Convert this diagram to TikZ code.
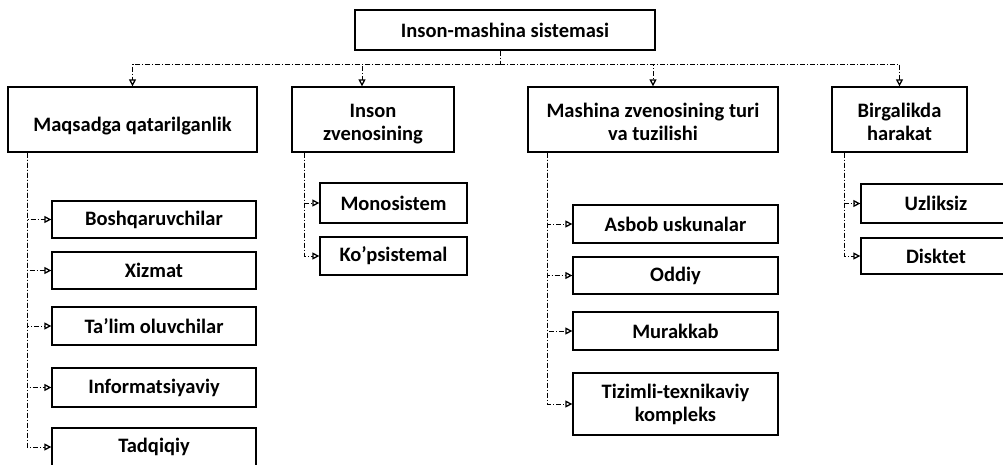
\documentclass[tikz,border=0pt]{standalone}
\usepackage{fontspec}
\setmainfont{Carlito}
\usetikzlibrary{arrows.meta}
\tikzset{
  box/.style = {draw, line width = 1.3pt, align = center, inner sep = 2pt, font = \bfseries\fontsize{20.5}{23}\selectfont},
  head/.style = {box, minimum height = 65pt, text height = 47pt, text depth = 5pt},
  link/.style = {line width = 0.5pt, dash pattern = on 5pt off 2pt on 1pt off 2pt, -{Triangle[open, length = 7pt, width = 7pt, line width = 1.3pt]}}
}
\begin{document}
\begin{tikzpicture}[x = 1pt, y = -1pt]
  \useasboundingbox (0, 0) rectangle (1003, 464);
  % root
  \node[box, minimum width = 300pt, minimum height = 40pt] (root) at (505, 30) {Inson-mashina sistemasi};
  % first level
  \node[head, minimum width = 249pt, text height = 28pt, text depth = 5pt] (maq) at (132.5, 119.5) {Maqsadga qatarilganlik};
  \node[head, minimum width = 162pt] (ins) at (373, 119.5) {Inson\\zvenosining};
  \node[head, minimum width = 250pt] (mash) at (653, 119.5) {Mashina zvenosining turi\\va tuzilishi};
  \node[head, minimum width = 135pt] (birg) at (899.5, 119.5) {Birgalikda\\harakat};
  \coordinate (bus) at (500, 64);
  \draw[line width = 0.5pt, dash pattern = on 5pt off 2pt on 1pt off 2pt] (root.south -| bus) -- (bus);
  \draw[link] (bus) -| (maq.north);
  \draw[link] (bus) -| ([xshift = -11pt]ins.north);
  \draw[link] (bus) -| (mash.north);
  \draw[link] (bus) -| (birg.north);
  % Maqsadga qatarilganlik
  \node[box, minimum width = 204pt, minimum height = 37pt] (bosh) at (154, 219.5) {Boshqaruvchilar};
  \node[box, minimum width = 204pt, minimum height = 37pt] (xiz) at (154, 270.5) {Xizmat};
  \node[box, minimum width = 204pt, minimum height = 38pt] (tal) at (154, 326) {Ta’lim oluvchilar};
  \node[box, minimum width = 204pt, minimum height = 39pt] (inf) at (154, 387.5) {Informatsiyaviy};
  \node[box, minimum width = 204pt, minimum height = 38pt] (tad) at (154, 447) {Tadqiqiy};
  \foreach \n in {bosh, xiz, tal, inf, tad}
    \draw[link] ([xshift = 20pt]maq.south west) |- (\n.west);
  % Inson zvenosining
  \node[box, minimum width = 147pt, minimum height = 40pt] (mono) at (393.5, 203) {Monosistem};
  \node[box, minimum width = 147pt, minimum height = 38pt] (kop) at (393.5, 256) {Ko’psistemal};
  \foreach \n in {mono, kop}
    \draw[link] ([xshift = 13pt]ins.south west) |- (\n.west);
  % Mashina zvenosining turi va tuzilishi
  \node[box, minimum width = 205pt, minimum height = 38pt] (asb) at (675.5, 224) {Asbob uskunalar};
  \node[box, minimum width = 205pt, minimum height = 37pt] (odd) at (675.5, 275.5) {Oddiy};
  \node[box, minimum width = 205pt, minimum height = 38pt] (mur) at (675.5, 331) {Murakkab};
  \node[box, minimum width = 205pt, minimum height = 62pt] (tiz) at (675.5, 404) {Tizimli-texnikaviy\\kompleks};
  \foreach \n in {asb, odd, mur, tiz}
    \draw[link] ([xshift = 20pt]mash.south west) |- (\n.west);
  % Birgalikda harakat
  \node[box, minimum width = 150pt, minimum height = 39pt] (uzl) at (936, 203.5) {Uzliksiz};
  \node[box, minimum width = 150pt, minimum height = 36pt] (dis) at (936, 256) {Disktet};
  \foreach \n in {uzl, dis}
    \draw[link] ([xshift = 13pt]birg.south west) |- (\n.west);
\end{tikzpicture}
\end{document}
